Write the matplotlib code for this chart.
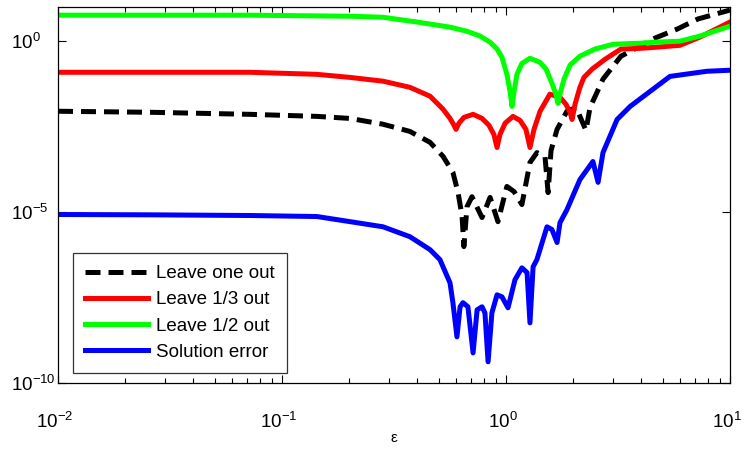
import matplotlib
matplotlib.use("Agg")
import matplotlib.pyplot as plt
import matplotlib.transforms as mtransforms
from matplotlib.ticker import LogLocator, NullLocator, NullFormatter
import numpy as np

plt.rcParams['font.family'] = ['Liberation Sans', 'DejaVu Sans']
plt.rcParams['mathtext.default'] = 'regular'

# values, stored as log10(eps), log10(error)
loo_x = [-2, -1.589, -1.143, -0.844, -0.696, -0.549, -0.429, -0.339, -0.281, -0.237,
         -0.214, -0.196, -0.188, -0.174, -0.152, -0.107, -0.071, -0.036, 0.004, 0.036,
         0.071, 0.107, 0.138, 0.174, 0.188, 0.201, 0.228, 0.272, 0.313, 0.357,
         0.375, 0.406, 0.433, 0.513, 0.665, 0.763, 0.857, 1.0]
loo_y = [-2.05, -2.08, -2.14, -2.20, -2.26, -2.43, -2.64, -2.96, -3.37, -3.84,
         -4.43, -5.13, -6.01, -4.84, -4.55, -5.16, -4.57, -5.28, -4.25, -4.40,
         -4.78, -3.55, -3.26, -3.37, -4.43, -3.20, -2.58, -2.05, -1.94, -2.61,
         -1.94, -1.50, -1.11, -0.44, 0.09, 0.35, 0.65, 0.91]

third_x = [-2, -1.589, -1.143, -0.844, -0.696, -0.549, -0.429, -0.339, -0.281, -0.25,
           -0.232, -0.223, -0.21, -0.188, -0.147, -0.107, -0.076, -0.054, -0.040, -0.027,
           -0.004, 0.031, 0.063, 0.089, 0.107, 0.125, 0.152, 0.196, 0.241, 0.268,
           0.286, 0.295, 0.308, 0.330, 0.348, 0.384, 0.442, 0.513, 0.598, 0.665,
           0.777, 0.866, 1.0]
third_y = [-0.91, -0.91, -0.91, -0.97, -1.06, -1.17, -1.35, -1.61, -1.99, -2.26,
           -2.46, -2.58, -2.40, -2.23, -2.14, -2.26, -2.46, -2.73, -3.11, -2.73,
           -2.40, -2.20, -2.32, -2.58, -3.11, -2.58, -2.05, -1.55, -1.64, -1.85,
           -2.08, -2.29, -1.85, -1.35, -1.06, -0.82, -0.53, -0.23, -0.21, -0.18,
           -0.12, 0.12, 0.56]

half_x = [-2, -1.589, -1.143, -0.696, -0.549, -0.397, -0.25, -0.174, -0.116, -0.071,
          -0.040, -0.018, 0.004, 0.018, 0.027, 0.036, 0.049, 0.071, 0.107, 0.152,
          0.179, 0.205, 0.223, 0.232, 0.241, 0.259, 0.286, 0.330, 0.397, 0.478,
          0.598, 0.665, 0.777, 0.866, 1.0]
half_y = [0.76, 0.76, 0.76, 0.73, 0.70, 0.56, 0.41, 0.29, 0.15, -0.03,
          -0.23, -0.47, -0.97, -1.47, -1.91, -1.47, -0.97, -0.65, -0.50, -0.62,
          -0.82, -1.23, -1.55, -1.82, -1.55, -1.11, -0.70, -0.44, -0.23, -0.09,
          -0.06, -0.03, 0.0, 0.15, 0.44]

sol_x = [-2, -1.589, -1.143, -0.844, -0.696, -0.549, -0.429, -0.339, -0.295, -0.25,
         -0.237, -0.219, -0.205, -0.192, -0.170, -0.147, -0.129, -0.107, -0.094, -0.080,
         -0.063, -0.040, -0.018, 0.009, 0.040, 0.071, 0.094, 0.107, 0.121, 0.138,
         0.183, 0.205, 0.228, 0.241, 0.272, 0.330, 0.388, 0.411, 0.433, 0.496,
         0.554, 0.732, 0.897, 1.0]
sol_y = [-5.07, -5.08, -5.10, -5.13, -5.28, -5.43, -5.72, -6.10, -6.39, -7.07,
         -7.65, -8.65, -7.77, -7.65, -7.77, -9.12, -7.86, -7.77, -7.95, -9.38,
         -7.95, -7.42, -7.48, -7.80, -6.98, -6.63, -6.77, -8.24, -6.60, -6.39,
         -5.43, -5.51, -5.89, -5.31, -4.93, -4.05, -3.52, -4.13, -3.26, -2.29,
         -1.91, -1.03, -0.88, -0.85]

fig = plt.figure(figsize=(7.42, 4.53), dpi=100)
ax = fig.add_axes([58/742, 70/453, 672/742, 376/453])

lw = 3.6
ax.plot(10**np.array(loo_x), 10**np.array(loo_y), color='black', lw=lw,
        dashes=(3.0, 1.6), label='Leave one out')
ax.plot(10**np.array(third_x), 10**np.array(third_y), color='#ff0000', lw=lw,
        label='Leave 1/3 out')
ax.plot(10**np.array(half_x), 10**np.array(half_y), color='#00ff00', lw=lw,
        label='Leave 1/2 out')
ax.plot(10**np.array(sol_x), 10**np.array(sol_y), color='#0000ff', lw=lw,
        label='Solution error')

ax.set_xscale('log')
ax.set_yscale('log')
ax.set_xlim(1e-2, 1e1)
ax.set_ylim(1e-10, 1e1)
ax.set_yticks([1e-10, 1e-5, 1e0])
ax.set_yticklabels(['$10^{-10}$', '$10^{-5}$', '$10^{0}$'])
ax.yaxis.set_minor_locator(NullLocator())
ax.set_xticks([1e-2, 1e-1, 1e0, 1e1])
ax.set_xticklabels(['$10^{-2}$', '$10^{-1}$', '$10^{0}$', '$10^{1}$'])
ax.xaxis.set_minor_locator(LogLocator(base=10, subs=np.arange(2, 10)))
ax.xaxis.set_minor_formatter(NullFormatter())
ax.tick_params(which='both', direction='in', top=True, right=True,
               labelsize=13.5, width=0.8)
ax.tick_params(which='major', length=6)
ax.tick_params(which='minor', length=3.3)
ax.tick_params(axis='x', which='major', pad=21)
ax.tick_params(axis='y', which='major', pad=34)
for s in ax.spines.values():
    s.set_linewidth(0.9)

# matlab-like label placement: "10" starts at the same x on the y axis
for lab in ax.get_yticklabels():
    lab.set_horizontalalignment('left')
shift = mtransforms.ScaledTranslation(-3/100, 0, fig.dpi_scale_trans)
for lab in ax.get_xticklabels():
    lab.set_transform(lab.get_transform() + shift)

ax.set_xlabel('ε', fontsize=11, labelpad=-1)

leg = ax.legend(loc='lower left', bbox_to_anchor=(0.022, 0.027), fontsize=13.5,
                frameon=True, fancybox=False, edgecolor='black', handlelength=3.35,
                handletextpad=0.43, labelspacing=0.48, borderpad=0.65,
                borderaxespad=0)
leg.get_frame().set_linewidth(0.9)

fig.savefig('out.png', dpi=100)
